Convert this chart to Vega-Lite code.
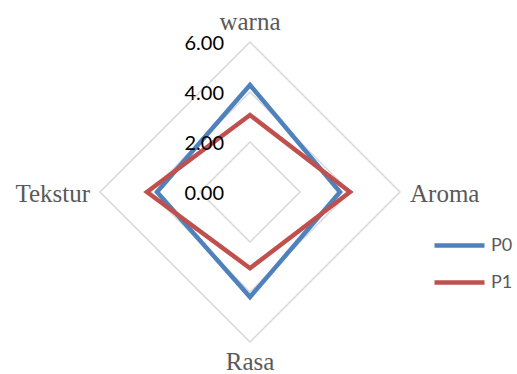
{
  "$schema": "https://vega.github.io/schema/vega-lite/v6.json",
  "width": 517,
  "height": 374,
  "autosize": "none",
  "padding": 0,
  "background": "white",
  "config": {"view": {"stroke": null}},
  "datasets": {
    "scores": [
      {"category": "warna", "series": "P0", "value": 4.28},
      {"category": "Aroma", "series": "P0", "value": 3.6},
      {"category": "Rasa", "series": "P0", "value": 4.2},
      {"category": "Tekstur", "series": "P0", "value": 3.72},
      {"category": "warna", "series": "P1", "value": 3.08},
      {"category": "Aroma", "series": "P1", "value": 4.0},
      {"category": "Rasa", "series": "P1", "value": 3.05},
      {"category": "Tekstur", "series": "P1", "value": 4.12}
    ],
    "grid": [
      {"category": "warna", "value": 2}, {"category": "Aroma", "value": 2},
      {"category": "Rasa", "value": 2}, {"category": "Tekstur", "value": 2},
      {"category": "warna", "value": 4}, {"category": "Aroma", "value": 4},
      {"category": "Rasa", "value": 4}, {"category": "Tekstur", "value": 4},
      {"category": "warna", "value": 6}, {"category": "Aroma", "value": 6},
      {"category": "Rasa", "value": 6}, {"category": "Tekstur", "value": 6}
    ],
    "ticks": [
      {"value": 0, "label": "0.00"},
      {"value": 2, "label": "2.00"},
      {"value": 4, "label": "4.00"},
      {"value": 6, "label": "6.00"}
    ]
  },
  "layer": [
    {
      "data": {"name": "grid"},
      "transform": [
        {"calculate": "datum.category === 'Aroma' ? datum.value : datum.category === 'Tekstur' ? -datum.value : 0", "as": "px"},
        {"calculate": "datum.category === 'warna' ? datum.value : datum.category === 'Rasa' ? -datum.value : 0", "as": "py"}
      ],
      "mark": {"type": "line", "interpolate": "linear-closed", "stroke": "#D9D9D9", "strokeWidth": 1.5},
      "encoding": {
        "x": {"field": "px", "type": "quantitative", "scale": {"domain": [-10, 10.68], "nice": false, "zero": false}, "axis": null},
        "y": {"field": "py", "type": "quantitative", "scale": {"domain": [-7.28, 7.68], "nice": false, "zero": false}, "axis": null},
        "detail": {"field": "value"},
        "order": {"field": "category"}
      }
    },
    {
      "data": {"name": "scores"},
      "transform": [
        {"calculate": "datum.category === 'Aroma' ? datum.value : datum.category === 'Tekstur' ? -datum.value : 0", "as": "px"},
        {"calculate": "datum.category === 'warna' ? datum.value : datum.category === 'Rasa' ? -datum.value : 0", "as": "py"}
      ],
      "mark": {"type": "line", "interpolate": "linear-closed", "strokeWidth": 4.5, "strokeJoin": "miter"},
      "encoding": {
        "x": {"field": "px", "type": "quantitative"},
        "y": {"field": "py", "type": "quantitative"},
        "order": {"field": "category"},
        "color": {
          "field": "series",
          "type": "nominal",
          "scale": {"domain": ["P0", "P1"], "range": ["#4F81BD", "#C0504D"]},
          "legend": {
            "title": null,
            "orient": "none",
            "legendX": 432,
            "legendY": 218,
            "padding": 0,
            "symbolType": "stroke",
            "symbolSize": 2500,
            "symbolStrokeWidth": 4.5,
            "symbolOffset": 0,
            "rowPadding": -5,
            "labelFont": "Lato",
            "labelFontSize": 18,
            "labelColor": "#595959",
            "labelOffset": 4
          }
        }
      }
    },
    {
      "data": {"name": "ticks"},
      "mark": {"type": "text", "align": "right", "baseline": "middle", "dx": -26, "dy": 2, "font": "Lato", "fontSize": 20, "color": "#000000"},
      "encoding": {
        "x": {"datum": 0, "type": "quantitative"},
        "y": {"field": "value", "type": "quantitative"},
        "text": {"field": "label"}
      }
    },
    {
      "data": {"name": "grid"},
      "transform": [{"filter": "datum.value === 6 && datum.category === 'warna'"}],
      "mark": {"type": "text", "align": "center", "baseline": "alphabetic", "dy": -12, "font": "Liberation Serif", "fontSize": 25, "color": "#595959"},
      "encoding": {
        "x": {"datum": 0, "type": "quantitative"},
        "y": {"field": "value", "type": "quantitative"},
        "text": {"field": "category"}
      }
    },
    {
      "data": {"name": "grid"},
      "transform": [{"filter": "datum.value === 6 && datum.category === 'Rasa'"}, {"calculate": "-datum.value", "as": "py"}],
      "mark": {"type": "text", "align": "center", "baseline": "alphabetic", "dy": 28, "font": "Liberation Serif", "fontSize": 25, "color": "#595959"},
      "encoding": {
        "x": {"datum": 0, "type": "quantitative"},
        "y": {"field": "py", "type": "quantitative"},
        "text": {"field": "category"}
      }
    },
    {
      "data": {"name": "grid"},
      "transform": [{"filter": "datum.value === 6 && datum.category === 'Aroma'"}],
      "mark": {"type": "text", "align": "left", "baseline": "alphabetic", "dx": 10, "dy": 10, "font": "Liberation Serif", "fontSize": 25, "color": "#595959"},
      "encoding": {
        "x": {"field": "value", "type": "quantitative"},
        "y": {"datum": 0, "type": "quantitative"},
        "text": {"field": "category"}
      }
    },
    {
      "data": {"name": "grid"},
      "transform": [{"filter": "datum.value === 6 && datum.category === 'Tekstur'"}, {"calculate": "-datum.value", "as": "px"}],
      "mark": {"type": "text", "align": "right", "baseline": "alphabetic", "dx": -10, "dy": 10, "font": "Liberation Serif", "fontSize": 25, "color": "#595959"},
      "encoding": {
        "x": {"field": "px", "type": "quantitative"},
        "y": {"datum": 0, "type": "quantitative"},
        "text": {"field": "category"}
      }
    }
  ]
}
